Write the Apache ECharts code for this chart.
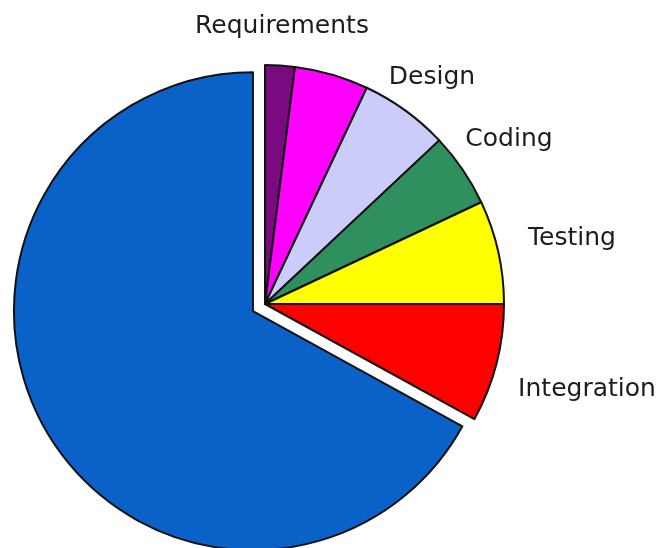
<!DOCTYPE html>
<html>
<head>
<meta charset="utf-8">
<style>
  html, body { margin: 0; padding: 0; background: #ffffff; }
  #chart { width: 662px; height: 548px; }
</style>
<script src="https://cdn.jsdelivr.net/npm/echarts@6/dist/echarts.min.js"></script>
</head>
<body>
<div id="chart"></div>
<script>
// Share of effort per software life-cycle phase (percent)
const phases = ['Requirements', 'Specification', 'Design', 'Coding', 'Testing', 'Integration', 'Maintenance'];
const shares = [2, 5, 6, 5, 7, 8, 67];
const labelled = ['Requirements', 'Design', 'Coding', 'Testing', 'Integration'];
const sliceColors = ['#7a0a80', '#ff00ff', '#ccccfa', '#2f8f5f', '#ffff00', '#ff0000', '#0a62c8'];

// Where each phase name sits on the page (centre of the text)
const labelSpots = {
  Requirements: [282, 26],
  Design: [432, 77],
  Coding: [509, 139],
  Testing: [572, 238],
  Integration: [587, 389]
};

const chart = echarts.init(document.getElementById('chart'), null, { renderer: 'canvas' });

const data = phases.map((name, i) => ({
  name: name,
  value: shares[i],
  selected: name === 'Maintenance',
  itemStyle: { color: sliceColors[i] },
  label: { show: labelled.indexOf(name) >= 0 }
}));

chart.setOption({
  animation: false,
  series: [{
    type: 'pie',
    center: [265, 304],
    radius: 239,
    startAngle: 90,
    clockwise: true,
    selectedMode: 'single',
    selectedOffset: 14,
    data: data,
    itemStyle: { borderColor: '#111111', borderWidth: 2 },
    emphasis: { scale: false },
    label: {
      position: 'outside',
      formatter: '{b}',
      fontFamily: 'DejaVu Sans',
      fontSize: 25,
      color: '#1c1c1c',
      overflow: 'none',
      width: 300
    },
    labelLine: { show: false },
    labelLayout: function (params) {
      const name = phases[params.dataIndex];
      const spot = labelSpots[name];
      if (!spot) return {};
      return { x: spot[0], y: spot[1], align: 'center', verticalAlign: 'middle' };
    }
  }]
});
</script>
</body>
</html>
